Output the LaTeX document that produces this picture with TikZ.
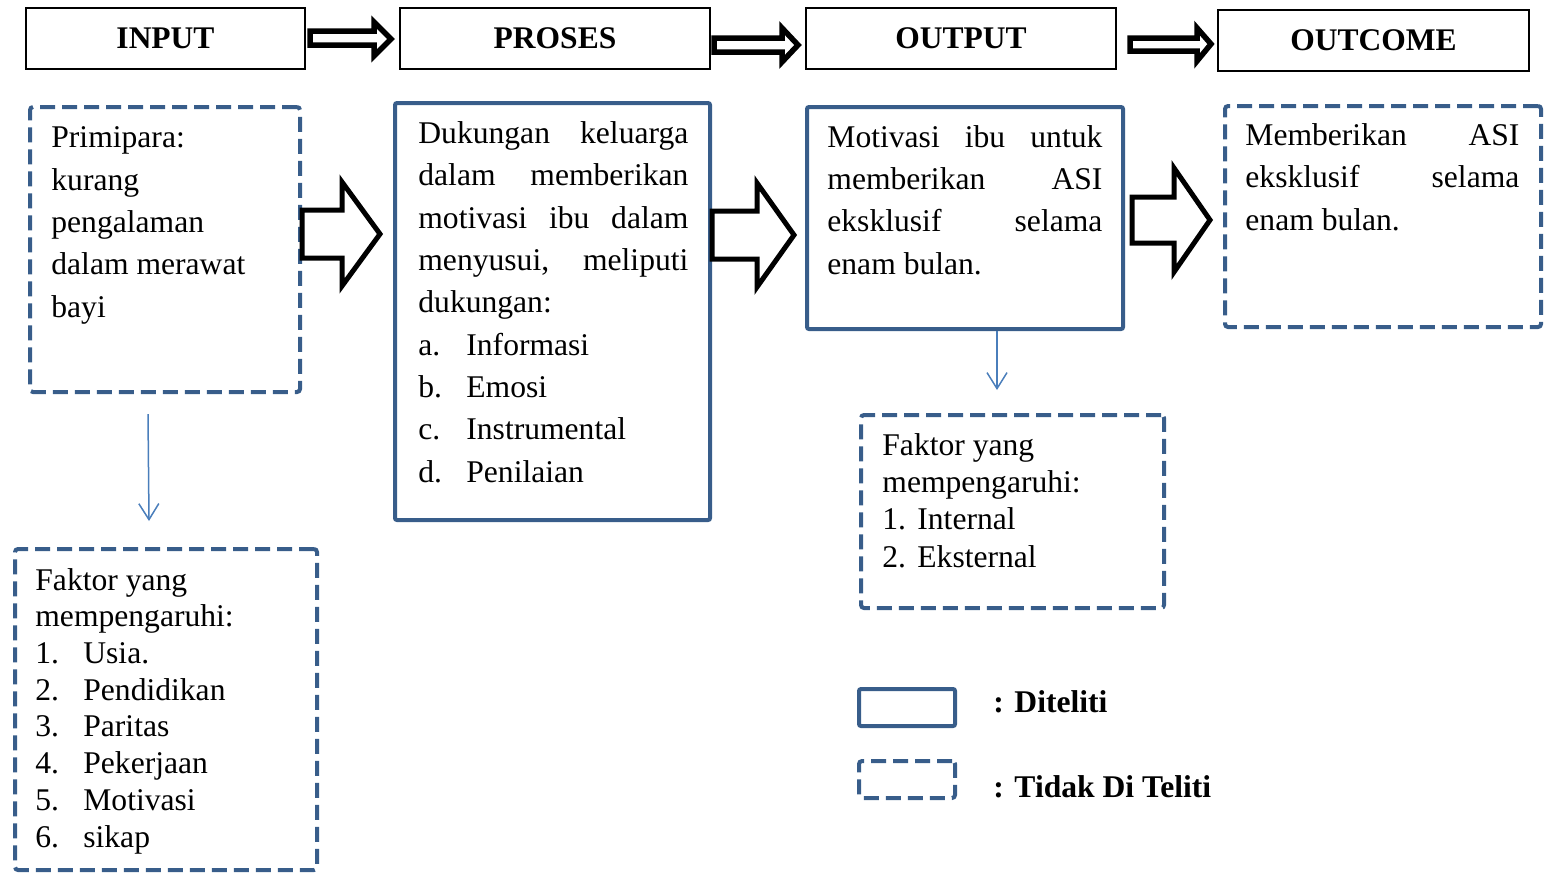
\documentclass[tikz,border=0pt]{standalone}
\usepackage{fontspec}
\setmainfont{Liberation Serif}
\usetikzlibrary{arrows.meta}
\definecolor{boxblue}{RGB}{56,93,138}
\definecolor{thinblue}{RGB}{74,126,187}
\begin{document}
\begin{tikzpicture}[x=0.5pt,y=-0.5pt,
  titlebox/.style={draw=black,line width=1pt,inner sep=0pt,font=\fontsize{15.75}{18}\selectfont\bfseries},
  solidbox/.style={draw=boxblue,line width=2pt,inner sep=0pt,rounded corners=1pt},
  dashbox/.style={draw=boxblue,line width=2pt,inner sep=0pt,rounded corners=1.5pt,dash pattern=on 7.5pt off 3.5pt},
  bodytext/.style={anchor=base west,inner sep=0pt,align=left,font=\fontsize{15.8}{21.15}\selectfont},
  listtext/.style={anchor=base west,inner sep=0pt,align=left,font=\fontsize{15.8}{18.35}\selectfont},
  listtextb/.style={anchor=base west,inner sep=0pt,align=left,font=\fontsize{15.8}{18.6}\selectfont},
  legtext/.style={anchor=base west,inner sep=0pt,font=\fontsize{15.8}{18}\selectfont\bfseries},
  blockarrow/.style={draw=black,line width=2.5pt,fill=white,line join=miter},
  smallarrow/.style={draw=black,line width=2.75pt,fill=white,line join=miter},
  thinarrow/.style={draw=thinblue,line width=0.75pt,-{Straight Barb[length=8pt,width=10pt]}},
]
\useasboundingbox (0,0) rectangle (1545,875);

% title boxes
\node[titlebox,minimum width=139.5pt,minimum height=30.5pt] (tin) at (165.5,38.5) {INPUT};
\node[titlebox,minimum width=155pt,minimum height=30.5pt] (tpro) at (555,38.5) {PROSES};
\node[titlebox,minimum width=155pt,minimum height=30.5pt] (tout) at (961,38.5) {OUTPUT};
\node[titlebox,minimum width=155.5pt,minimum height=30.5pt] (tcome) at (1373.5,40.5) {OUTCOME};

% top arrows
\draw[smallarrow] ([xshift=2pt]tin.east |- 0,31) -- (374,31) -- (374,22) -- (391,39) -- (374,56) -- (374,45) -- ([xshift=2pt]tin.east |- 0,45) -- cycle;
\draw[smallarrow] ([xshift=1.5pt]tpro.east |- 0,38) -- (782,38) -- (782,28) -- (798,45) -- (782,62) -- (782,52) -- ([xshift=1.5pt]tpro.east |- 0,52) -- cycle;
\draw[smallarrow] ([xshift=6.5pt]tout.east |- 0,38) -- (1197,38) -- (1197,28) -- (1211,44) -- (1197,61) -- (1197,51) -- ([xshift=6.5pt]tout.east |- 0,51) -- cycle;

% main boxes
\node[dashbox,minimum width=135pt,minimum height=142.5pt] (A) at (165,249.5) {};
\node[solidbox,minimum width=157.5pt,minimum height=208.5pt] (B) at (552.5,311.5) {};
\node[solidbox,minimum width=158pt,minimum height=111pt] (C) at (965,218) {};
\node[dashbox,minimum width=158pt,minimum height=110.5pt] (D) at (1383,216.5) {};
\node[dashbox,minimum width=151pt,minimum height=160.5pt] (E) at (166,709.5) {};
\node[dashbox,minimum width=151.5pt,minimum height=96.5pt] (F) at (1012.5,511.5) {};

% texts (anchored at the baseline of their last line)
\node[bodytext] (tA) at (51,317) {Primipara:\\kurang\\pengalaman\\dalam merawat\\bayi};
\node[bodytext] (tB) at (418,482) {\makebox[135pt][s]{Dukungan keluarga}\\
\makebox[135pt][s]{dalam memberikan}\\
\makebox[135pt][s]{motivasi ibu dalam}\\
\makebox[135pt][s]{menyusui, meliputi}\\
dukungan:\\
\makebox[24pt][l]{a.}Informasi\\
\makebox[24pt][l]{b.}Emosi\\
\makebox[24pt][l]{c.}Instrumental\\
\makebox[24pt][l]{d.}Penilaian};
\node[bodytext] (tC) at (827,274) {\makebox[137.5pt][s]{Motivasi ibu untuk}\\
\makebox[137.5pt][s]{memberikan ASI}\\
\makebox[137.5pt][s]{eksklusif selama}\\
enam bulan.};
\node[bodytext] (tD) at (1245,230) {\makebox[137pt][s]{Memberikan ASI}\\
\makebox[137pt][s]{eksklusif selama}\\
enam bulan.};
\node[listtext] (tE) at (35,847) {Faktor yang\\
mempengaruhi:\\
\makebox[24pt][l]{1.}Usia.\\
\makebox[24pt][l]{2.}Pendidikan\\
\makebox[24pt][l]{3.}Paritas\\
\makebox[24pt][l]{4.}Pekerjaan\\
\makebox[24pt][l]{5.}Motivasi\\
\makebox[24pt][l]{6.}sikap};
\node[listtextb] (tF) at (882,567) {Faktor yang\\
mempengaruhi:\\
\makebox[17.5pt][l]{1.}Internal\\
\makebox[17.5pt][l]{2.}Eksternal};

% block arrows
\draw[blockarrow] (A.east |- 0,210) -- (342,210) -- (342,182) -- (380,234) -- (342,286) -- (342,258) -- (A.east |- 0,258) -- cycle;
\draw[blockarrow] (B.east |- 0,211) -- (757,211) -- (757,183) -- (794,235) -- (757,287) -- (757,259) -- (B.east |- 0,259) -- cycle;
\draw[blockarrow] ([xshift=3.5pt]C.east |- 0,197) -- (1174,197) -- (1174,168) -- (1210,220) -- (1174,272) -- (1174,243) -- ([xshift=3.5pt]C.east |- 0,243) -- cycle;

% thin arrows
\coordinate (t1s) at (148,414);
\coordinate (t1e) at (149,521);
\draw[thinarrow] (t1s) -- (t1e);
\coordinate (t2e) at (997,390);
\draw[thinarrow] (t2e |- C.south) -- (t2e);

% legend
\node[solidbox,minimum width=48pt,minimum height=18.5pt] (L1) at (907,707.5) {};
\node[dashbox,minimum width=48pt,minimum height=18.5pt] (L2) at (907,779.5) {};
\node[legtext] (L1t) at (993,712) {: Diteliti};
\node[legtext] (L2t) at (993,797) {: Tidak Di Teliti};
\end{tikzpicture}
\end{document}
